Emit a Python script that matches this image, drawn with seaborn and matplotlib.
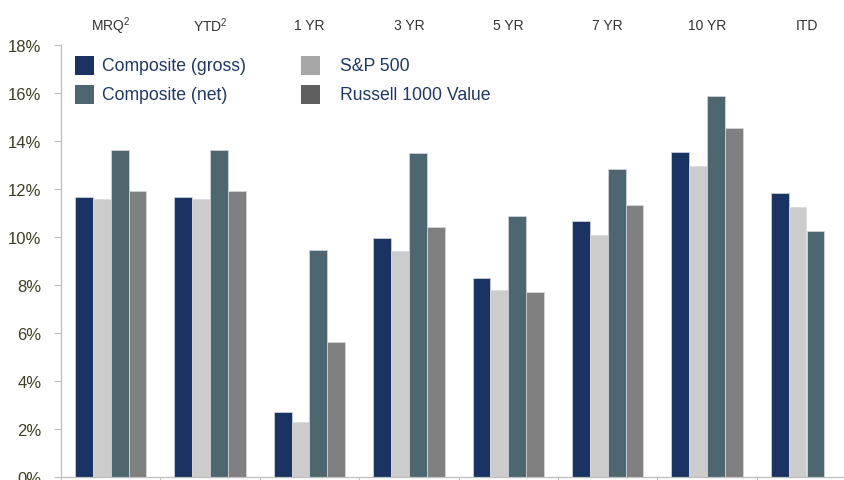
import numpy as np
import pandas as pd
import seaborn as sns
import matplotlib
matplotlib.use("Agg")
import matplotlib.pyplot as plt
from matplotlib.patches import Rectangle
from matplotlib.transforms import blended_transform_factory

# ---- data ----
categories = ["MRQ", "YTD", "1 YR", "3 YR", "5 YR", "7 YR", "10 YR", "ITD"]
top_labels = [r"MRQ$\mathregular{^2}$", r"YTD$\mathregular{^2}$", "1 YR", "3 YR",
              "5 YR", "7 YR", "10 YR", "ITD"]
series = ["Composite (gross)", "S&P 500", "Composite (net)", "Russell 1000 Value"]
gross = [11.67, 11.67, 2.71, 9.97, 8.28, 10.65, 13.53, 11.82]
sp500 = [11.60, 11.60, 2.30, 9.40, 7.78, 10.08, 12.94, 11.26]
net = [13.63, 13.63, 9.46, 13.51, 10.87, 12.85, 15.89, 10.24]
russell = [11.93, 11.93, 5.64, 10.42, 7.72, 11.33, 14.53, np.nan]
yticks = [0, 2, 4, 6, 8, 10, 12, 14, 16, 18]

bar_colors = ["#1a3362", "#cccccc", "#4e6670", "#808080"]
legend_colors = {"Composite (gross)": "#1a3362", "Composite (net)": "#4e6670",
                 "S&P 500": "#a6a6a6", "Russell 1000 Value": "#5f5f5f"}

df = pd.DataFrame({
    "period": categories * 4,
    "series": np.repeat(series, len(categories)),
    "value": gross + sp500 + net + russell,
})

sns.set_theme(style="white")
plt.rcParams["font.family"] = ["Liberation Sans", "DejaVu Sans"]

W, H = 845, 481
fig = plt.figure(figsize=(W / 100, H / 100), dpi=100)
# axes: left spine at x=61px, bottom at y=478px, top (18%) at y=46px, group width 99.4px
left, bottom, top = 61, 478, 46
gw = 99.4
ax = fig.add_axes([left / W, (H - bottom) / H, 8 * gw / W, (bottom - top) / H])

sns.barplot(data=df, x="period", y="value", hue="series", hue_order=series,
            order=categories, palette=bar_colors, width=0.72, ax=ax,
            edgecolor="#d6dae0", linewidth=0.5, legend=False, saturation=1)

ax.set_xlim(-0.5, 7.5)
ax.set_ylim(0, 18)
ax.set_xlabel("")
ax.set_ylabel("")
ax.set_yticks(yticks)
ax.set_yticklabels([f"{v}%" for v in yticks])
ax.set_xticks(np.arange(-0.5, 8.0, 1.0))
ax.set_xticklabels([])
ax.tick_params(axis="y", left=True, length=5, width=0.8, color="#bfbfbf",
               labelsize=12, labelcolor="#3f3f24", pad=9)
ax.tick_params(axis="x", bottom=True, length=4, width=0.8, color="#bfbfbf")
for s in ["top", "right"]:
    ax.spines[s].set_visible(False)
for s in ["left", "bottom"]:
    ax.spines[s].set_color("#bfbfbf")
    ax.spines[s].set_linewidth(0.9)

# category labels above the plot
trans = blended_transform_factory(ax.transData, ax.transAxes)
for i, lab in enumerate(top_labels):
    ax.text(i, 1 + 20 / (bottom - top), lab, transform=trans, ha="center",
            va="center", fontsize=10, color="#333333", clip_on=False)

# legend (two columns)
def legend_entry(px, py, name, tx):
    fig.patches.append(Rectangle((px / W, 1 - (py + 19) / H), 19 / W, 19 / H,
                                 transform=fig.transFigure,
                                 color=legend_colors[name], lw=0))
    fig.text(tx / W, 1 - (py + 9.5) / H, name, ha="left", va="center",
             fontsize=12.7, color="#1f3864")

legend_entry(75, 57, "Composite (gross)", 102)
legend_entry(75, 86, "Composite (net)", 102)
legend_entry(301, 57, "S&P 500", 340)
legend_entry(301, 86, "Russell 1000 Value", 340)

fig.savefig("out.png", dpi=100)
